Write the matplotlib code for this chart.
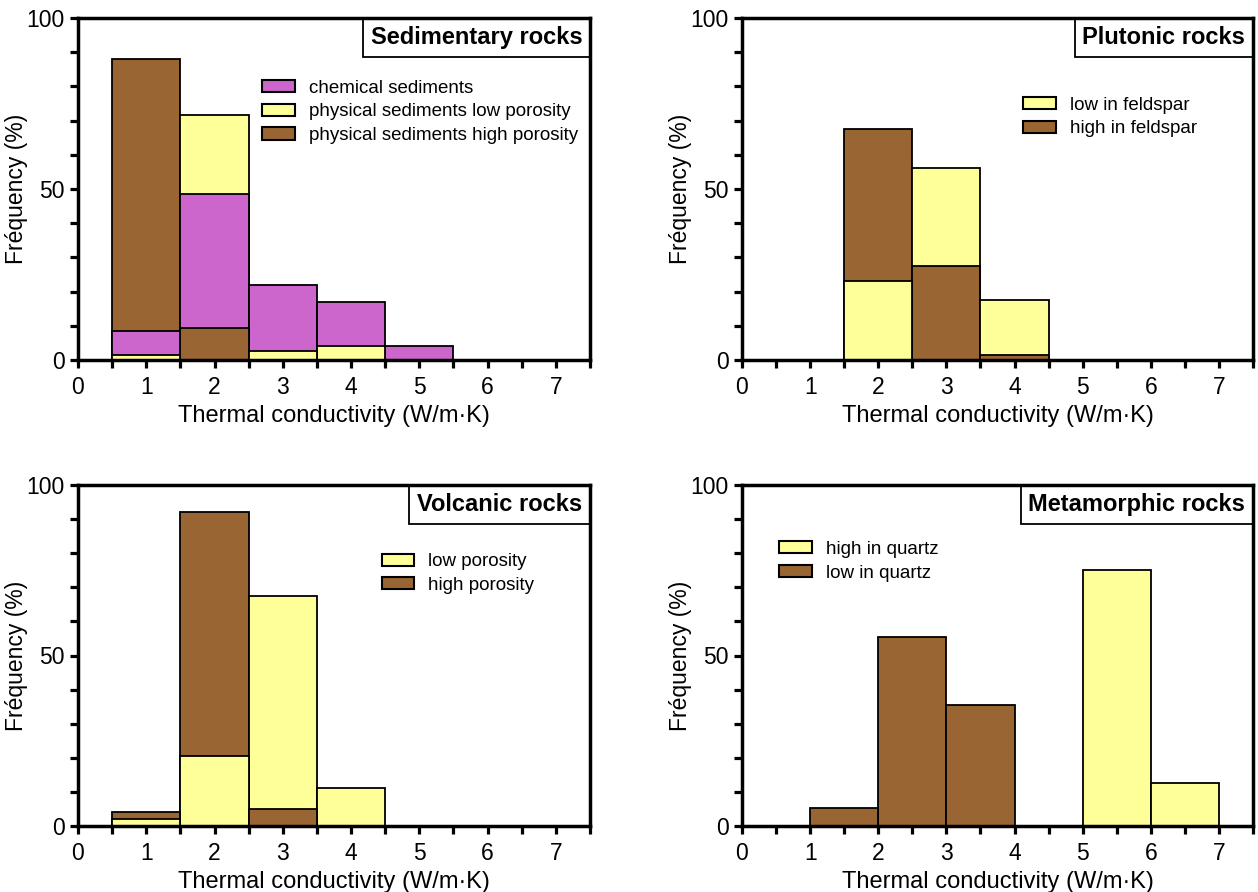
import matplotlib.pyplot as plt
from matplotlib.offsetbox import AnchoredText
from matplotlib.ticker import MultipleLocator

plt.rcParams['font.family'] = ['Liberation Sans', 'DejaVu Sans']

BROWN = '#996633'
YELLOW = '#FFFF99'
MAGENTA = '#CC66CC'

# sedimentary rocks, bins centred on 1..5
sed_bins = [1, 2, 3, 4, 5]
sed_chemical = [8.5, 48.5, 22, 17, 4]
sed_low_porosity = [1.5, 71.5, 2.5, 4, 0]
sed_high_porosity = [88, 9.5, 0, 0, 0]

# plutonic rocks
plu_bins = [2, 3, 4]
plu_low_feldspar = [23, 56, 17.5]
plu_high_feldspar = [67.5, 27.5, 1.5]

# volcanic rocks
vol_bins = [1, 2, 3, 4]
vol_low_porosity = [2, 20.5, 67.5, 11]
vol_high_porosity = [4, 92, 5, 0]

# metamorphic rocks
met_high_bins = [5.5, 6.5]
met_high_quartz = [75, 12.5]
met_low_bins = [1.5, 2.5, 3.5]
met_low_quartz = [5.3, 55.5, 35.5]

W, H = 1258, 892
fig = plt.figure(figsize=(W / 100, H / 100), dpi=100)


def make_axes(l, r, b, t):
    return fig.add_axes([l / W, 1 - b / H, (r - l) / W, (b - t) / H])


panels = [
    (make_axes(78, 590, 360, 18), 'Sedimentary rocks',
     [('chemical sediments', MAGENTA, sed_bins, sed_chemical),
      ('physical sediments low porosity', YELLOW, sed_bins, sed_low_porosity),
      ('physical sediments high porosity', BROWN, sed_bins, sed_high_porosity)],
     (0.36, 0.82)),
    (make_axes(742, 1253, 360, 18), 'Plutonic rocks',
     [('low in feldspar', YELLOW, plu_bins, plu_low_feldspar),
      ('high in feldspar', BROWN, plu_bins, plu_high_feldspar)],
     (0.55, 0.77)),
    (make_axes(78, 590, 826, 485), 'Volcanic rocks',
     [('low porosity', YELLOW, vol_bins, vol_low_porosity),
      ('high porosity', BROWN, vol_bins, vol_high_porosity)],
     (0.593, 0.80)),
    (make_axes(742, 1253, 826, 485), 'Metamorphic rocks',
     [('high in quartz', YELLOW, met_high_bins, met_high_quartz),
      ('low in quartz', BROWN, met_low_bins, met_low_quartz)],
     (0.073, 0.836)),
]

for ax, title, series, leg_pos in panels:
    # draw the tallest bar of each bin first so the smaller ones sit in front
    bars = []
    for name, color, bins, vals in series:
        for x, v in zip(bins, vals):
            if v > 0:
                bars.append((v, x, color))
    bars.sort(reverse=True)
    for i, (v, x, color) in enumerate(bars):
        ax.bar(x, v, width=1, color=color, edgecolor='black', linewidth=1.3, zorder=2 + i)

    handles = [plt.Rectangle((0, 0), 1, 1, fc=c, ec='black', lw=1.5) for _, c, _, _ in series]
    ax.legend(handles, [s[0] for s in series], loc='upper left', bbox_to_anchor=leg_pos,
              frameon=False, fontsize=13.5, handlelength=1.75, handleheight=0.62,
              labelspacing=0.36, handletextpad=0.75, borderpad=0, borderaxespad=0)

    at = AnchoredText(title, loc='upper right', borderpad=0, pad=0.33,
                      prop=dict(fontsize=17, fontweight='bold'))
    at.patch.set_linewidth(1.3)
    at.set_zorder(20)
    ax.add_artist(at)

    ax.set_xlim(0, 7.5)
    ax.set_ylim(0, 100)
    ax.xaxis.set_major_locator(MultipleLocator(1))
    ax.xaxis.set_minor_locator(MultipleLocator(0.5))
    ax.yaxis.set_major_locator(MultipleLocator(50))
    ax.yaxis.set_minor_locator(MultipleLocator(10))
    ax.tick_params(which='both', direction='out', length=5.5, width=2.3, labelsize=16.5, pad=6)
    ax.tick_params(axis='y', which='both', pad=4)
    for sp in ax.spines.values():
        sp.set_linewidth(2.5)
        sp.set_zorder(30)
    ax.set_xlabel('Thermal conductivity (W/m·K)', fontsize=17, labelpad=4)
    ax.set_ylabel('Fréquency (%)', fontsize=16.5)
    ax.yaxis.set_label_coords(-0.097, 0.5)

fig.savefig('out.png', dpi=100)
